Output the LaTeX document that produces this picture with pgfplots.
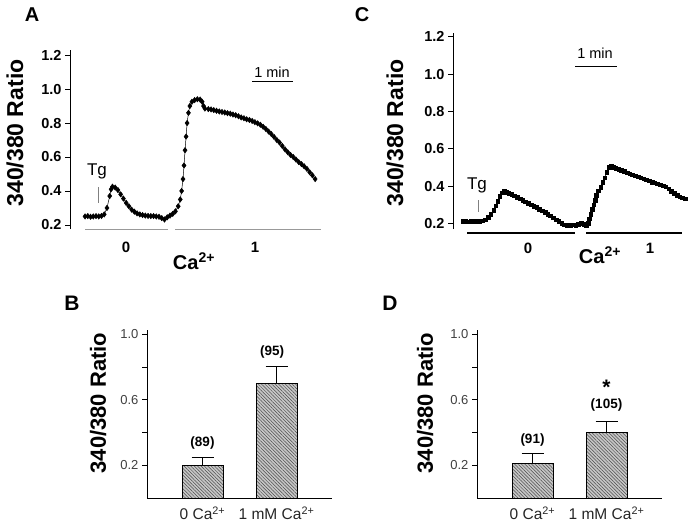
\documentclass[border=0pt]{standalone}
\usepackage{fontspec}
\setmainfont{Liberation Sans}
\usepackage{pgfplots}
\pgfplotsset{compat=1.18}
\usetikzlibrary{patterns.meta}

\newcommand{\fs}[1]{\fontsize{#1}{#1}\selectfont}

\pgfplotsset{
  trace/.style={
    scale only axis, anchor=south west, clip=false,
    axis x line=none, axis y line=left,
    axis line style={-, line width=0.8pt},
    tick align=outside, major tick length=5pt,
    tick style={line width=0.8pt, black},
    xtick=\empty,
    ytick={0.2,0.4,0.6,0.8,1.0,1.2},
    yticklabel style={font=\fs{14.5}\bfseries,
      /pgf/number format/.cd, fixed, fixed zerofill, precision=1,
      assume math mode=true},
  },
  barpanel/.style={
    scale only axis, anchor=south west, clip=false,
    width=185pt, height=168pt,
    axis x line=bottom, axis y line=left,
    axis line style={-, line width=0.8pt},
    tick align=outside, major tick length=5pt,
    y tick style={line width=0.7pt, black},
    x tick style={draw=none},
    ymin=0, ymax=1.025, xmin=-0.75, xmax=1.75,
    xtick={0,1},
    xticklabels={0 Ca\textsuperscript{2+}, 1 mM Ca\textsuperscript{2+}},
    xticklabel style={font=\fs{15.5}, text=black!85},
    ytick={0.2,0.4,0.6,0.8,1.0},
    yticklabels={0.2,,0.6,,1.0},
    yticklabel style={font=\fs{13}, text=black!75},
    ybar, bar width=41pt,
  },
  hatchbar/.style={
    draw=black, line width=0.6pt, fill=gray!45,
    postaction={pattern={Lines[angle=-45, distance=2.4pt, line width=0.5pt]},
      pattern color=black!70},
    error bars/.cd, y dir=plus, y explicit,
    error bar style={line width=0.8pt, black},
    error mark options={rotate=90, mark size=11pt, line width=0.8pt, black},
  },
}

\begin{document}
\begin{tikzpicture}[x=1pt,y=1pt]
\useasboundingbox (0,0) rectangle (690,523);

% ---------------- A: trace
\begin{axis}[trace, at={(70pt,294pt)}, width=252pt, height=179pt,
  xmin=-22, xmax=346, ymin=0.176, ymax=1.23]
\addplot[black, line width=0.5pt, mark=diamond*, mark size=2.7pt] coordinates {
(0,0.250) (4,0.252) (8,0.248) (12,0.250) (16,0.252) (20,0.250) (24,0.253)
(28,0.262) (32,0.300) (36,0.370) (38,0.410) (40,0.425) (44,0.420) (48,0.405)
(52,0.380) (56,0.355) (60,0.330) (64,0.310) (68,0.290) (72,0.278) (76,0.268)
(80,0.262) (84,0.258) (88,0.255) (92,0.253) (96,0.252) (100,0.252) (104,0.250)
(108,0.248) (112,0.240) (116,0.232) (120,0.245) (124,0.255) (128,0.265)
(132,0.280) (136,0.310) (139,0.350) (141,0.400) (143,0.470) (144.5,0.550)
(146,0.640) (147.5,0.720) (149,0.800) (151,0.860) (153,0.900) (156,0.925)
(160,0.935) (164,0.940) (168,0.938) (171,0.925) (173,0.900) (175,0.885)
(180,0.882) (184,0.880) (188,0.876) (192,0.872) (196,0.868) (200,0.865)
(204,0.862) (208,0.858) (212,0.855) (216,0.850) (220,0.846) (224,0.840)
(228,0.833) (232,0.828) (236,0.822) (240,0.818) (244,0.812) (248,0.805)
(252,0.798) (256,0.790) (260,0.778) (264,0.765) (268,0.750) (272,0.735)
(276,0.718) (280,0.700) (284,0.685) (288,0.665) (292,0.645) (296,0.628)
(300,0.612) (304,0.600) (308,0.585) (312,0.570) (316,0.558) (320,0.545)
(324,0.530) (328,0.510) (332,0.492) (336,0.470)
};
\draw[gray!80, line width=1.1pt] (axis cs:0,0.171) -- (axis cs:121,0.171);
\draw[gray!80, line width=1.1pt] (axis cs:132,0.171) -- (axis cs:344,0.171);
\end{axis}

% ---------------- C: trace
\begin{axis}[trace, at={(453pt,294pt)}, width=233pt, height=196pt,
  xmin=-14.4, xmax=321, ymin=0.170, ymax=1.22]
\addplot[black, line width=0.5pt, mark=square*, mark size=1.8pt] coordinates {
(0,0.210) (4,0.212) (8,0.208) (12,0.210) (16,0.212) (20,0.210) (24,0.212)
(28,0.215) (32,0.220) (36,0.232) (40,0.248) (44,0.270) (47,0.295) (50,0.320)
(53,0.345) (56,0.365) (59,0.372) (62,0.368) (66,0.362) (70,0.355) (74,0.348)
(78,0.340) (82,0.332) (86,0.324) (90,0.316) (94,0.308) (98,0.300) (102,0.292)
(106,0.285) (110,0.276) (114,0.268) (118,0.260) (122,0.250) (126,0.240)
(130,0.230) (134,0.220) (138,0.210) (142,0.200) (146,0.192) (150,0.190)
(154,0.190) (158,0.192) (162,0.190) (166,0.195) (170,0.200) (174,0.195)
(177,0.190) (180,0.200) (182,0.225) (184,0.250) (186,0.275) (188,0.300)
(190,0.325) (192,0.350) (195,0.375) (198,0.395) (201,0.420) (204,0.445)
(207,0.475) (210,0.500) (213,0.505) (216,0.500) (220,0.495) (224,0.490)
(228,0.484) (232,0.478) (236,0.472) (240,0.466) (244,0.460) (248,0.455)
(252,0.450) (256,0.445) (260,0.440) (264,0.434) (268,0.428) (272,0.422)
(276,0.418) (280,0.412) (284,0.408) (288,0.402) (292,0.396) (296,0.385)
(300,0.372) (304,0.360) (308,0.350) (312,0.343) (316,0.338) (320,0.333)
};
\end{axis}

% ---------------- B: bars
\begin{axis}[barpanel, at={(147pt,25pt)}]
\addplot[hatchbar] table[x=x, y=y, y error=e] {
x y e
0 0.20 0.05
1 0.70 0.10
};
\node[font=\fs{13.5}\bfseries] at (axis cs:0,0.335) {(89)};
\node[font=\fs{13.5}\bfseries] at (axis cs:0.94,0.89) {(95)};
\end{axis}

% ---------------- D: bars
\begin{axis}[barpanel, at={(477pt,25pt)}]
\addplot[hatchbar] table[x=x, y=y, y error=e] {
x y e
0 0.21 0.06
1 0.40 0.065
};
\node[font=\fs{13.5}\bfseries] at (axis cs:0,0.355) {(91)};
\node[font=\fs{13.5}\bfseries] at (axis cs:1,0.57) {(105)};
\node[font=\fs{21}\bfseries] at (axis cs:1,0.675) {*};
\end{axis}

% ---------------- annotations
\node[font=\fs{20}\bfseries] at (32,508) {A};
\node[font=\fs{20}\bfseries] at (362,508) {C};
\node[font=\fs{21}\bfseries] at (72,220) {B};
\node[font=\fs{21}\bfseries] at (390,220) {D};

\node[font=\fs{23}\bfseries, rotate=90] at (15,390) {340/380 Ratio};
\node[font=\fs{23}\bfseries, rotate=90] at (395,390) {340/380 Ratio};
\node[font=\fs{22}\bfseries, rotate=90] at (98,120) {340/380 Ratio};
\node[font=\fs{22}\bfseries, rotate=90] at (425,120) {340/380 Ratio};

% A labels
\node[font=\fs{15}\bfseries] at (126,276) {0};
\node[font=\fs{15}\bfseries] at (255,276) {1};
\node[font=\fs{20}\bfseries] at (194,262) {Ca\textsuperscript{2+}};
\node[font=\fs{17}] at (97,352) {Tg};
\draw[gray, line width=0.4pt] (98,336) -- (98,320);
\draw[black, line width=1pt] (252,441) -- (293,441);
\node[font=\fs{14.5}] at (272,451) {1 min};

% C labels and bars
\draw[black, line width=2.2pt] (467,290) -- (575,290);
\draw[black, line width=2.2pt] (586,290) -- (682,290);
\node[font=\fs{15}\bfseries] at (528,275) {0};
\node[font=\fs{15}\bfseries] at (650,275) {1};
\node[font=\fs{20}\bfseries] at (600,268) {Ca\textsuperscript{2+}};
\node[font=\fs{17}] at (477,338) {Tg};
\draw[gray, line width=0.4pt] (478,323) -- (478,311);
\draw[black, line width=1pt] (575,456) -- (617,456);
\node[font=\fs{14.5}] at (595,470) {1 min};
\end{tikzpicture}
\end{document}
